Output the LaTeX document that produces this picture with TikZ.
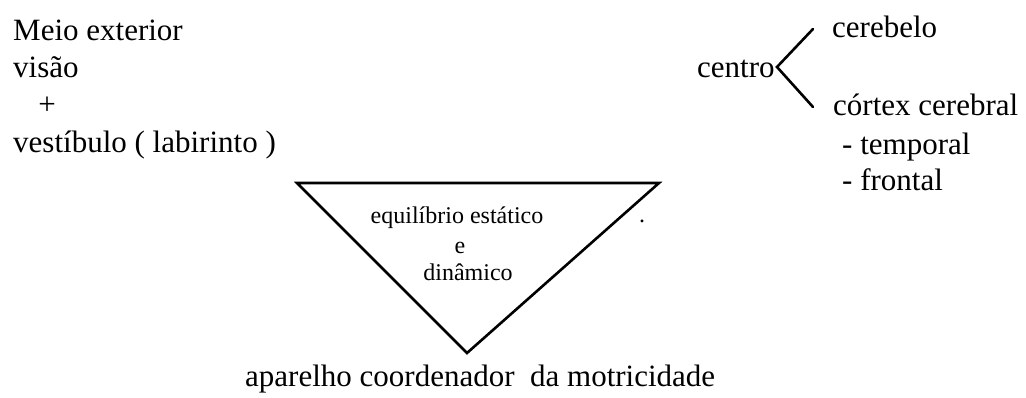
\documentclass[tikz,border=0pt]{standalone}
\usepackage{fontspec}
\setmainfont{Liberation Serif}
\begin{document}
\begin{tikzpicture}[x=1pt,y=-1pt,
  big/.style={inner sep=0pt,anchor=base west,font=\fontsize{31}{37}\selectfont},
  small/.style={inner sep=0pt,anchor=base,font=\fontsize{24}{28}\selectfont},
  stroke/.style={line width=2.6pt,line cap=round,line join=miter}]
\useasboundingbox (0,0) rectangle (1026,397);
% left column
\node[big] (meio) at (13,40) {Meio exterior};
\node[big] (visao) at (13,77) {visão};
\node[big,anchor=center] (plus) at (47,106) {+};
\node[big] (vest) at (13,152) {vestíbulo ( labirinto )};
% right column
\node[big] (centro) at (697,77) {centro};
\node[big] (cereb) at (832,37) {cerebelo};
\node[big] (cortex) at (833,115) {córtex cerebral};
\node[big] (temp) at (842,154) {- temporal};
\node[big] (front) at (842,190) {- frontal};
\coordinate (v) at (777,67);
\coordinate (vu) at (813,29);
\coordinate (vd) at (813,107);
\draw[stroke] (vu) -- (v) -- (vd);
% triangle
\coordinate (tl) at (297,183);
\coordinate (tr) at (659,183);
\coordinate (tb) at (467,353);
\draw[stroke] (tl) -- (tr) -- (tb) -- cycle;
\node[small] (eq) at (457,223) {equilíbrio estático};
\node[small] (e) at (460,253) {e};
\node[small] (din) at (468,280) {dinâmico};
\node[small] (dot) at (642,222) {.};
% bottom
\node[big] (apar) at (245,386) {aparelho coordenador\ \ da motricidade};
\end{tikzpicture}
\end{document}
